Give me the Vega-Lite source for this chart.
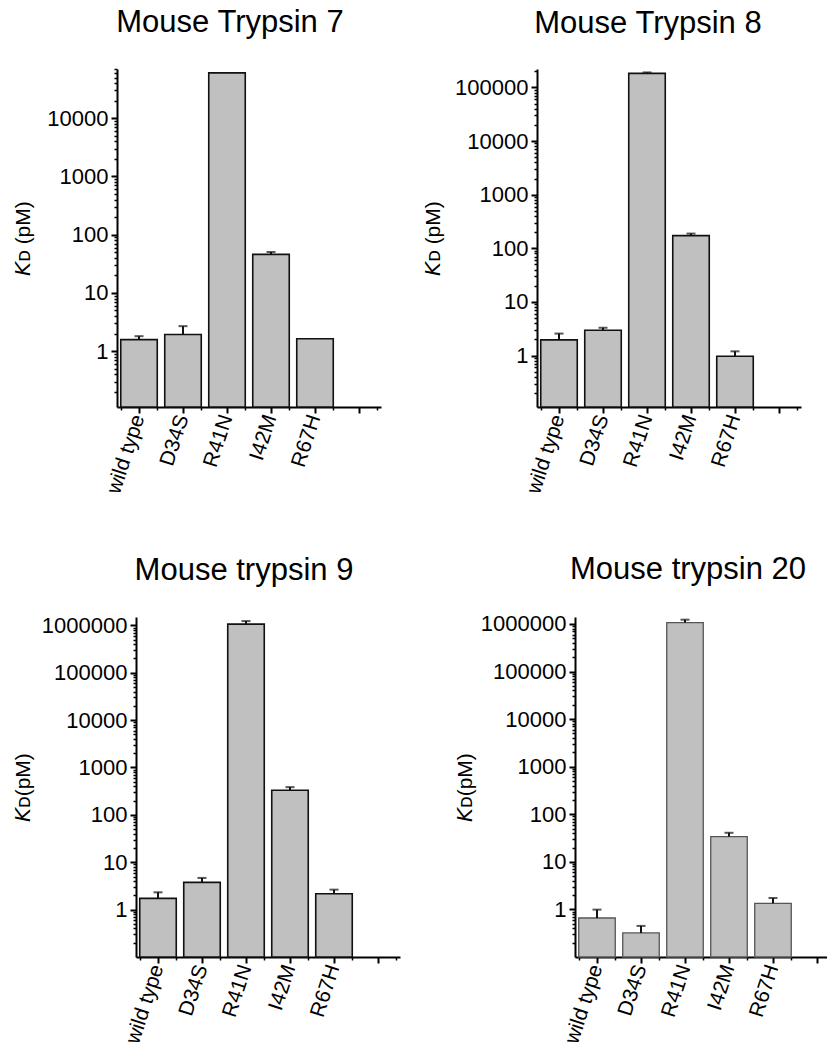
{
  "$schema": "https://vega.github.io/schema/vega-lite/v6.json",
  "padding": {"left": 12, "top": 7, "right": 0, "bottom": 0},
  "background": "white",
  "config": {
    "view": {"stroke": null},
    "font": "Liberation Sans",
    "axis": {
      "labelFont": "Liberation Sans", "labelFontSize": 22, "labelColor": "#000",
      "titleFont": "Liberation Sans", "titleFontSize": 21, "titleFontWeight": "normal", "titleColor": "#000",
      "domainColor": "#000", "domainWidth": 2, "tickColor": "#000", "tickWidth": 2, "grid": false
    },
    "title": {"font": "Liberation Sans", "fontSize": 31, "fontWeight": "normal", "color": "#000", "baseline": "alphabetic", "frame": "group", "anchor": "middle"}
  },
  "datasets": {
    "kd": [
      {"panel": "T7", "mutant": "wild type", "value": 1.58, "err": 1.81},
      {"panel": "T7", "mutant": "D34S", "value": 1.93, "err": 2.69},
      {"panel": "T7", "mutant": "R41N", "value": 60000, "err": null},
      {"panel": "T7", "mutant": "I42M", "value": 46, "err": 50.5},
      {"panel": "T7", "mutant": "R67H", "value": 1.63, "err": null},
      {"panel": "T8", "mutant": "wild type", "value": 1.96, "err": 2.57},
      {"panel": "T8", "mutant": "D34S", "value": 2.96, "err": 3.3},
      {"panel": "T8", "mutant": "R41N", "value": 182000, "err": 190000},
      {"panel": "T8", "mutant": "I42M", "value": 172, "err": 188},
      {"panel": "T8", "mutant": "R67H", "value": 0.97, "err": 1.2},
      {"panel": "T9", "mutant": "wild type", "value": 1.73, "err": 2.32},
      {"panel": "T9", "mutant": "D34S", "value": 3.76, "err": 4.66},
      {"panel": "T9", "mutant": "R41N", "value": 1060000, "err": 1230000},
      {"panel": "T9", "mutant": "I42M", "value": 330, "err": 385},
      {"panel": "T9", "mutant": "R67H", "value": 2.17, "err": 2.64},
      {"panel": "T20", "mutant": "wild type", "value": 0.66, "err": 0.99},
      {"panel": "T20", "mutant": "D34S", "value": 0.32, "err": 0.45},
      {"panel": "T20", "mutant": "R41N", "value": 1070000, "err": 1230000},
      {"panel": "T20", "mutant": "I42M", "value": 34, "err": 40.8},
      {"panel": "T20", "mutant": "R67H", "value": 1.34, "err": 1.74}
    ]
  },
  "data": {"name": "kd"},
  "bounds": "flush",
  "spacing": 548,
  "vconcat": [
    {
      "bounds": "flush",
      "spacing": 156,
      "hconcat": [
        {
          "width": 264, "height": 338,
          "title": {"text": "Mouse Trypsin 7", "dx": -19, "offset": 29},
          "transform": [{"filter": "datum.panel === 'T7'"}],
          "resolve": {"axis": {"x": "independent", "y": "independent"}},
          "layer": [
            {
              "mark": {"type": "bar", "fill": "#c0c0c0", "stroke": "#111", "strokeWidth": 1.6},
              "encoding": {
                "x": {"field": "mutant", "type": "nominal", "sort": null,
                  "scale": {"domain": ["wild type", "D34S", "R41N", "I42M", "R67H", ""], "paddingInner": 0.17, "paddingOuter": 0.085},
                  "axis": {"title": null, "labelAngle": -72, "labelFontSize": 21, "tickSize": 6, "labelPadding": 2, "orient": "bottom"}},
                "y": {"field": "value", "type": "quantitative",
                  "scale": {"type": "log", "domain": [0.11, 70000], "nice": false},
                  "axis": {"title": "𝘒ᴅ (pM)", "values": [1, 10, 100, 1000, 10000], "format": "d", "tickSize": 6, "labelPadding": 3, "titleX": -84, "titleBaseline": "bottom", "orient": "left"}},
                "y2": {"datum": 0.11}
              }
            },
            {
              "transform": [{"filter": "datum.err != null"}],
              "mark": {"type": "rule", "color": "#111", "strokeWidth": 2},
              "encoding": {
                "x": {"field": "mutant", "type": "nominal", "sort": null,
                  "scale": {"domain": ["wild type", "D34S", "R41N", "I42M", "R67H", ""], "paddingInner": 0.17, "paddingOuter": 0.085},
                  "axis": {"title": null, "labels": false, "domain": false, "tickBand": "extent", "tickSize": 3, "tickWidth": 1.5, "orient": "bottom"}},
                "y": {"field": "value", "type": "quantitative",
                  "scale": {"type": "log", "domain": [0.11, 70000], "nice": false},
                  "axis": {"title": null, "labels": false, "domain": false, "tickSize": 3, "tickWidth": 1.5, "orient": "left",
                    "values": [0.2,0.3,0.4,0.5,0.6,0.7,0.8,0.9,2,3,4,5,6,7,8,9,20,30,40,50,60,70,80,90,200,300,400,500,600,700,800,900,2000,3000,4000,5000,6000,7000,8000,9000,20000,30000,40000,50000,60000,70000]}},
                "y2": {"field": "err"}
              }
            },
            {
              "transform": [{"filter": "datum.err != null"}],
              "mark": {"type": "tick", "color": "#111", "size": 9, "thickness": 2},
              "encoding": {
                "x": {"field": "mutant", "type": "nominal", "sort": null,
                  "scale": {"domain": ["wild type", "D34S", "R41N", "I42M", "R67H", ""], "paddingInner": 0.17, "paddingOuter": 0.085}, "axis": null},
                "y": {"field": "err", "type": "quantitative",
                  "scale": {"type": "log", "domain": [0.11, 70000], "nice": false}, "axis": null}
              }
            }
          ]
        },
        {
          "width": 264, "height": 338,
          "title": {"text": "Mouse Trypsin 8", "dx": -21, "offset": 29},
          "transform": [{"filter": "datum.panel === 'T8'"}],
          "resolve": {"axis": {"x": "independent", "y": "independent"}},
          "layer": [
            {
              "mark": {"type": "bar", "fill": "#c0c0c0", "stroke": "#111", "strokeWidth": 1.6},
              "encoding": {
                "x": {"field": "mutant", "type": "nominal", "sort": null,
                  "scale": {"domain": ["wild type", "D34S", "R41N", "I42M", "R67H", ""], "paddingInner": 0.17, "paddingOuter": 0.085},
                  "axis": {"title": null, "labelAngle": -72, "labelFontSize": 21, "tickSize": 6, "labelPadding": 2, "orient": "bottom"}},
                "y": {"field": "value", "type": "quantitative",
                  "scale": {"type": "log", "domain": [0.11, 220000], "nice": false},
                  "axis": {"title": "𝘒ᴅ (pM)", "values": [1, 10, 100, 1000, 10000, 100000], "format": "d", "tickSize": 6, "labelPadding": 3, "titleX": -94, "titleBaseline": "bottom", "orient": "left"}},
                "y2": {"datum": 0.11}
              }
            },
            {
              "transform": [{"filter": "datum.err != null"}],
              "mark": {"type": "rule", "color": "#111", "strokeWidth": 2},
              "encoding": {
                "x": {"field": "mutant", "type": "nominal", "sort": null,
                  "scale": {"domain": ["wild type", "D34S", "R41N", "I42M", "R67H", ""], "paddingInner": 0.17, "paddingOuter": 0.085},
                  "axis": {"title": null, "labels": false, "domain": false, "tickBand": "extent", "tickSize": 3, "tickWidth": 1.5, "orient": "bottom"}},
                "y": {"field": "value", "type": "quantitative",
                  "scale": {"type": "log", "domain": [0.11, 220000], "nice": false},
                  "axis": {"title": null, "labels": false, "domain": false, "tickSize": 3, "tickWidth": 1.5, "orient": "left",
                    "values": [0.2,0.3,0.4,0.5,0.6,0.7,0.8,0.9,2,3,4,5,6,7,8,9,20,30,40,50,60,70,80,90,200,300,400,500,600,700,800,900,2000,3000,4000,5000,6000,7000,8000,9000,20000,30000,40000,50000,60000,70000,80000,90000,200000]}},
                "y2": {"field": "err"}
              }
            },
            {
              "transform": [{"filter": "datum.err != null"}],
              "mark": {"type": "tick", "color": "#111", "size": 9, "thickness": 2},
              "encoding": {
                "x": {"field": "mutant", "type": "nominal", "sort": null,
                  "scale": {"domain": ["wild type", "D34S", "R41N", "I42M", "R67H", ""], "paddingInner": 0.17, "paddingOuter": 0.085}, "axis": null},
                "y": {"field": "err", "type": "quantitative",
                  "scale": {"type": "log", "domain": [0.11, 220000], "nice": false}, "axis": null}
              }
            }
          ]
        }
      ]
    },
    {
      "bounds": "flush",
      "spacing": 18,
      "hconcat": [
        {"width": 1, "height": 1, "data": {"values": []}, "mark": "point"},
        {
          "bounds": "flush",
          "spacing": 175,
          "hconcat": [
            {
              "width": 264, "height": 340,
              "title": {"text": "Mouse trypsin 9", "dx": -24, "offset": 27},
              "transform": [{"filter": "datum.panel === 'T9'"}],
              "resolve": {"axis": {"x": "independent", "y": "independent"}},
              "layer": [
                {
                  "mark": {"type": "bar", "fill": "#c0c0c0", "stroke": "#111", "strokeWidth": 1.6},
                  "encoding": {
                    "x": {"field": "mutant", "type": "nominal", "sort": null,
                      "scale": {"domain": ["wild type", "D34S", "R41N", "I42M", "R67H", ""], "paddingInner": 0.17, "paddingOuter": 0.085},
                      "axis": {"title": null, "labelAngle": -72, "labelFontSize": 21, "tickSize": 6, "labelPadding": 2, "orient": "bottom"}},
                    "y": {"field": "value", "type": "quantitative",
                      "scale": {"type": "log", "domain": [0.1, 1500000], "nice": false},
                      "axis": {"title": "𝘒ᴅ(pM)", "values": [1, 10, 100, 1000, 10000, 100000, 1000000], "format": "d", "tickSize": 6, "labelPadding": 3, "titleX": -103, "titleBaseline": "bottom", "orient": "left"}},
                    "y2": {"datum": 0.1}
                  }
                },
                {
                  "transform": [{"filter": "datum.err != null"}],
                  "mark": {"type": "rule", "color": "#111", "strokeWidth": 2},
                  "encoding": {
                    "x": {"field": "mutant", "type": "nominal", "sort": null,
                      "scale": {"domain": ["wild type", "D34S", "R41N", "I42M", "R67H", ""], "paddingInner": 0.17, "paddingOuter": 0.085},
                      "axis": {"title": null, "labels": false, "domain": false, "tickBand": "extent", "tickSize": 3, "tickWidth": 1.5, "orient": "bottom"}},
                    "y": {"field": "value", "type": "quantitative",
                      "scale": {"type": "log", "domain": [0.1, 1500000], "nice": false},
                      "axis": {"title": null, "labels": false, "domain": false, "tickSize": 3, "tickWidth": 1.5, "orient": "left",
                        "values": [0.2,0.3,0.4,0.5,0.6,0.7,0.8,0.9,2,3,4,5,6,7,8,9,20,30,40,50,60,70,80,90,200,300,400,500,600,700,800,900,2000,3000,4000,5000,6000,7000,8000,9000,20000,30000,40000,50000,60000,70000,80000,90000,200000,300000,400000,500000,600000,700000,800000,900000]}},
                    "y2": {"field": "err"}
                  }
                },
                {
                  "transform": [{"filter": "datum.err != null"}],
                  "mark": {"type": "tick", "color": "#111", "size": 9, "thickness": 2},
                  "encoding": {
                    "x": {"field": "mutant", "type": "nominal", "sort": null,
                      "scale": {"domain": ["wild type", "D34S", "R41N", "I42M", "R67H", ""], "paddingInner": 0.17, "paddingOuter": 0.085}, "axis": null},
                    "y": {"field": "err", "type": "quantitative",
                      "scale": {"type": "log", "domain": [0.1, 1500000], "nice": false}, "axis": null}
                  }
                }
              ]
            },
            {
              "width": 264, "height": 340,
              "title": {"text": "Mouse trypsin 20", "dx": -19, "offset": 27},
              "transform": [{"filter": "datum.panel === 'T20'"}],
              "resolve": {"axis": {"x": "independent", "y": "independent"}},
              "layer": [
                {
                  "mark": {"type": "bar", "fill": "#c0c0c0", "stroke": "#555", "strokeWidth": 1.3},
                  "encoding": {
                    "x": {"field": "mutant", "type": "nominal", "sort": null,
                      "scale": {"domain": ["wild type", "D34S", "R41N", "I42M", "R67H", ""], "paddingInner": 0.17, "paddingOuter": 0.085},
                      "axis": {"title": null, "labelAngle": -72, "labelFontSize": 21, "tickSize": 6, "labelPadding": 2, "orient": "bottom"}},
                    "y": {"field": "value", "type": "quantitative",
                      "scale": {"type": "log", "domain": [0.1, 1400000], "nice": false},
                      "axis": {"title": "𝘒ᴅ(pM)", "values": [1, 10, 100, 1000, 10000, 100000, 1000000], "format": "d", "tickSize": 6, "labelPadding": 3, "titleX": -100, "titleBaseline": "bottom", "orient": "left"}},
                    "y2": {"datum": 0.1}
                  }
                },
                {
                  "transform": [{"filter": "datum.err != null"}],
                  "mark": {"type": "rule", "color": "#111", "strokeWidth": 2},
                  "encoding": {
                    "x": {"field": "mutant", "type": "nominal", "sort": null,
                      "scale": {"domain": ["wild type", "D34S", "R41N", "I42M", "R67H", ""], "paddingInner": 0.17, "paddingOuter": 0.085},
                      "axis": {"title": null, "labels": false, "domain": false, "tickBand": "extent", "tickSize": 3, "tickWidth": 1.5, "orient": "bottom"}},
                    "y": {"field": "value", "type": "quantitative",
                      "scale": {"type": "log", "domain": [0.1, 1400000], "nice": false},
                      "axis": {"title": null, "labels": false, "domain": false, "tickSize": 3, "tickWidth": 1.5, "orient": "left",
                        "values": [0.2,0.3,0.4,0.5,0.6,0.7,0.8,0.9,2,3,4,5,6,7,8,9,20,30,40,50,60,70,80,90,200,300,400,500,600,700,800,900,2000,3000,4000,5000,6000,7000,8000,9000,20000,30000,40000,50000,60000,70000,80000,90000,200000,300000,400000,500000,600000,700000,800000,900000]}},
                    "y2": {"field": "err"}
                  }
                },
                {
                  "transform": [{"filter": "datum.err != null"}],
                  "mark": {"type": "tick", "color": "#111", "size": 9, "thickness": 2},
                  "encoding": {
                    "x": {"field": "mutant", "type": "nominal", "sort": null,
                      "scale": {"domain": ["wild type", "D34S", "R41N", "I42M", "R67H", ""], "paddingInner": 0.17, "paddingOuter": 0.085}, "axis": null},
                    "y": {"field": "err", "type": "quantitative",
                      "scale": {"type": "log", "domain": [0.1, 1400000], "nice": false}, "axis": null}
                  }
                }
              ]
            }
          ]
        }
      ]
    }
  ]
}
